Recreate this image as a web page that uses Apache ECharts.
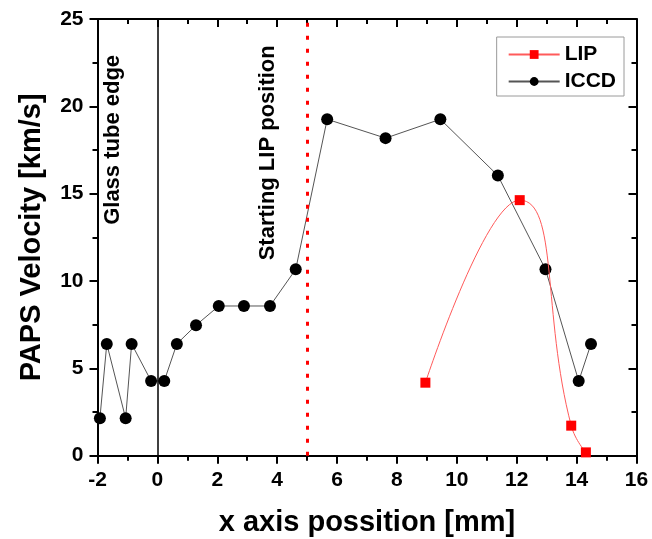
<!DOCTYPE html>
<html>
<head>
<meta charset="utf-8">
<script src="https://cdn.jsdelivr.net/npm/echarts@6/dist/echarts.min.js"></script>
<style>
  html, body { margin: 0; padding: 0; background: #fff; }
  #chart { width: 652px; height: 539px; }
</style>
</head>
<body>
<div id="chart"></div>
<script>
// Plasma velocity measured along the tube axis
const iccdX = [-1.92, -1.69, -1.06, -0.86, -0.21, 0.23, 0.65, 1.29, 2.05, 2.89, 3.76, 4.62, 5.67, 7.62, 9.45, 11.37, 12.96, 14.07, 14.48];
const iccdY = [2.14, 6.40, 2.14, 6.40, 4.28, 4.28, 6.40, 7.47, 8.57, 8.57, 8.57, 10.67, 19.26, 18.18, 19.26, 16.04, 10.67, 4.27, 6.40];
const lipX = [8.95, 12.10, 13.82, 14.31];
const lipY = [4.18, 14.63, 1.72, 0.19];

// Reference positions (mm) and annotation anchors in data units
const tubeEdgeX = 0;
const lipStartX = 5;
const notes = [
  { text: 'Glass tube edge', x: -1.48, y: 18.08 },
  { text: 'Starting LIP position', x: 3.69, y: 17.34 }
];

const xMin = -2, xMax = 16, xStep = 2;
const yMin = 0, yMax = 25, yStep = 5;

const FONT = '"Liberation Sans", Arial, sans-serif';

const chart = echarts.init(document.getElementById('chart'), null, { renderer: 'canvas' });

const axisLine = { show: true, onZero: false, lineStyle: { color: '#000', width: 2 } };
const tickStyle = { color: '#000', width: 2 };

function pairs(xs, ys) { return xs.map((x, i) => [x, ys[i]]); }

function frameAxis(extra, inside, labelled) {
  return Object.assign({
    type: 'value',
    axisLine: axisLine,
    axisTick: { show: true, inside: inside, length: 8, lineStyle: tickStyle },
    minorTick: { show: true, splitNumber: 2, length: 5, lineStyle: tickStyle },
    axisLabel: labelled
      ? { margin: 14, fontFamily: FONT, fontWeight: 'bold', fontSize: 21, color: '#000' }
      : { show: false },
    splitLine: { show: false }
  }, extra);
}

const titleStyle = { fontFamily: FONT, fontWeight: 'bold', fontSize: 29, color: '#000' };

const option = {
  backgroundColor: '#fff',
  animation: false,
  grid: { left: 97.5, right: 15.5, top: 19, bottom: 83.3, containLabel: false, outerBoundsMode: 'none' },
  legend: {
    orient: 'vertical',
    right: 28, top: 37,
    padding: [7, 8, 4, 11],
    itemGap: 6,
    itemWidth: 51, itemHeight: 11,
    borderColor: '#9a9a9a', borderWidth: 1,
    data: ['LIP', 'ICCD'],
    textStyle: { fontFamily: FONT, fontWeight: 'bold', fontSize: 21, color: '#000' }
  },
  xAxis: [
    frameAxis({
      min: xMin, max: xMax, interval: xStep, position: 'bottom',
      name: 'x axis possition [mm]', nameLocation: 'middle', nameGap: 53,
      nameTextStyle: titleStyle
    }, false, true),
    frameAxis({ min: xMin, max: xMax, interval: xStep, position: 'top' }, true, false)
  ],
  yAxis: [
    frameAxis({
      min: yMin, max: yMax, interval: yStep, position: 'left',
      name: 'PAPS Velocity [km/s]', nameLocation: 'middle', nameGap: 51,
      nameTextStyle: titleStyle
    }, false, true),
    frameAxis({ min: yMin, max: yMax, interval: yStep, position: 'right' }, true, false)
  ],
  series: [
    {
      name: 'ICCD', type: 'line',
      data: pairs(iccdX, iccdY),
      symbol: 'circle', symbolSize: 12,
      itemStyle: { color: '#000' },
      lineStyle: { color: '#555', width: 1 },
      z: 3,
      markLine: {
        silent: true, symbol: 'none', animation: false,
        label: { show: false },
        data: [
          { xAxis: tubeEdgeX, lineStyle: { color: '#000', width: 1.5, type: 'solid' } },
          { xAxis: lipStartX, lineStyle: { color: '#ff0000', width: 3, type: [4, 9] } }
        ]
      }
    },
    {
      name: 'LIP', type: 'line',
      data: pairs(lipX, lipY),
      smooth: 0.5,
      symbol: 'rect', symbolSize: 10,
      itemStyle: { color: '#ff0000' },
      lineStyle: { color: '#ff5a5a', width: 1 },
      z: 4
    },
    // empty series so the top and right frame axes are laid out
    { type: 'line', xAxisIndex: 1, yAxisIndex: 1, data: [], silent: true }
  ]
};

chart.setOption(option);

// Rotated annotations anchored in data coordinates
chart.setOption({
  graphic: notes.map(n => {
    const p = chart.convertToPixel({ xAxisIndex: 0, yAxisIndex: 0 }, [n.x, n.y]);
    return {
      type: 'text', x: p[0], y: p[1], rotation: Math.PI / 2,
      style: {
        text: n.text, fill: '#000',
        font: 'bold 22px ' + FONT,
        textAlign: 'center', textVerticalAlign: 'middle'
      },
      z: 10
    };
  })
});
</script>
</body>
</html>
